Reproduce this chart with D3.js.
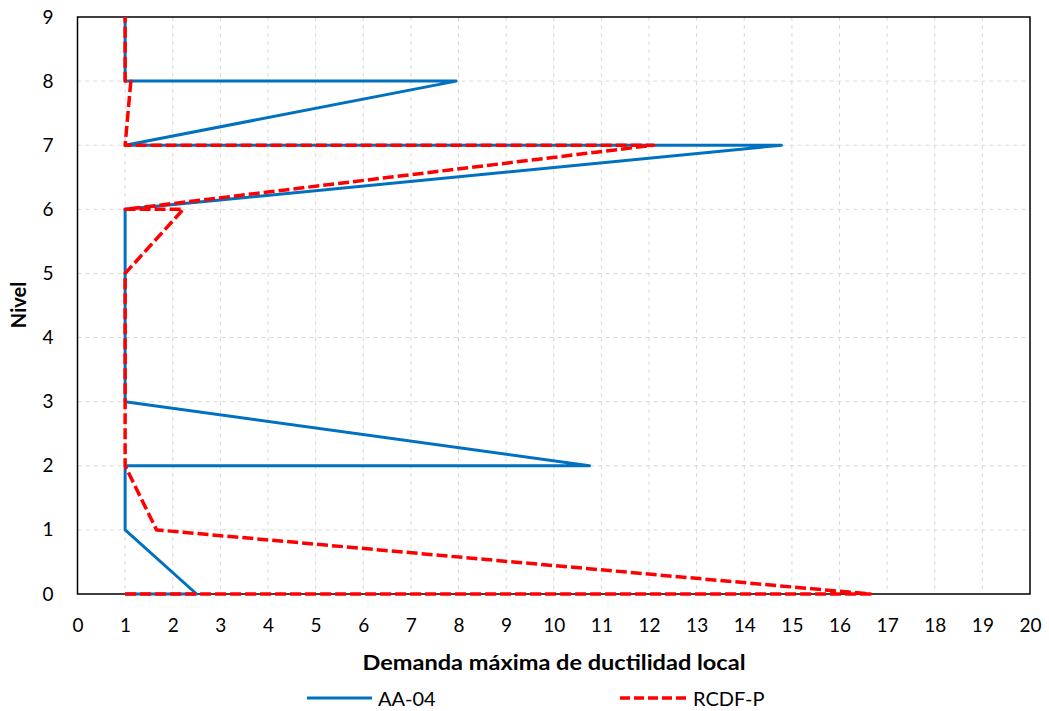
<!DOCTYPE html>
<html>
<head>
<meta charset="utf-8">
<script src="https://cdn.jsdelivr.net/npm/d3@7"></script>
<style>
  body { margin: 0; background: #fff; }
  svg { display: block; font-family: Lato, "Open Sans", sans-serif; }
</style>
</head>
<body>
<svg id="chart" width="1049" height="711"></svg>
<script>
// Data (vertex sequences as drawn)
const xTicks = d3.range(0, 21);
const yTicks = d3.range(0, 10);
const aa04X = [1, 2.5, 1, 1, 10.75, 1, 1, 14.78, 1, 7.95, 1, 1];
const aa04Y = [0, 0, 1, 2, 2, 3, 6, 7, 7, 8, 8, 9];
const rcdfX = [1, 16.65, 1.66, 1, 1, 2.22, 1, 12.1, 1, 1.12, 1, 1];
const rcdfY = [0, 0, 1, 2, 5, 6, 6, 7, 7, 8, 8, 9];
const seriesNames = ["AA-04", "RCDF-P"];

const svg = d3.select("#chart");
const pLeft = 77.5, pRight = 1030, pTop = 17, pBottom = 594;
const x = d3.scaleLinear().domain([0, 20]).range([pLeft, pRight]);
const y = d3.scaleLinear().domain([0, 9]).range([pBottom, pTop]);

// grid
const grid = svg.append("g");
grid.selectAll("line.v").data(xTicks.slice(1, -1)).enter().append("line")
  .attr("x1", d => x(d)).attr("x2", d => x(d)).attr("y1", pTop).attr("y2", pBottom)
  .attr("stroke", "#d9d9d9").attr("stroke-width", 1).attr("stroke-dasharray", "4,4");
grid.selectAll("line.h").data(yTicks.slice(1, -1)).enter().append("line")
  .attr("y1", d => y(d)).attr("y2", d => y(d)).attr("x1", pLeft).attr("x2", pRight)
  .attr("stroke", "#d9d9d9").attr("stroke-width", 1).attr("stroke-dasharray", "4,4");

// axes (labels only)
const xAxis = svg.append("g").attr("transform", `translate(0,${pBottom})`)
  .call(d3.axisBottom(x).tickValues(xTicks).tickSize(0).tickPadding(25).tickFormat(d3.format("d")));
xAxis.select(".domain").remove();
xAxis.selectAll("text").attr("font-size", 19).attr("fill", "#000").attr("font-family", "Lato, sans-serif");

const yAxis = svg.append("g").attr("transform", `translate(${pLeft},0)`)
  .call(d3.axisLeft(y).tickValues(yTicks).tickSize(0).tickPadding(24).tickFormat(d3.format("d")));
yAxis.select(".domain").remove();
yAxis.selectAll("text").attr("font-size", 19).attr("fill", "#000").attr("font-family", "Lato, sans-serif");

// border
svg.append("rect").attr("x", pLeft).attr("y", pTop).attr("width", pRight - pLeft).attr("height", pBottom - pTop)
  .attr("fill", "none").attr("stroke", "#000").attr("stroke-width", 1.5);

const line = d3.line().x(d => x(d[0])).y(d => y(d[1]));
const aa = aa04X.map((v, i) => [v, aa04Y[i]]);
const rc = rcdfX.map((v, i) => [v, rcdfY[i]]);

svg.append("path").datum(aa).attr("d", line).attr("fill", "none")
  .attr("stroke", "#0070C0").attr("stroke-width", 3).attr("stroke-linejoin", "round");
svg.append("path").datum(rc).attr("d", line).attr("fill", "none")
  .attr("stroke", "#FF0000").attr("stroke-width", 3.5).attr("stroke-dasharray", "11,4")
  .attr("stroke-linejoin", "round");

// axis titles
svg.append("text").attr("x", 554).attr("y", 670).attr("text-anchor", "middle")
  .attr("font-size", 21).attr("font-weight", "bold")
  .attr("textLength", 383).attr("lengthAdjust", "spacingAndGlyphs")
  .text("Demanda máxima de ductilidad local");
svg.append("text").attr("transform", "translate(26,305) rotate(-90)").attr("text-anchor", "middle")
  .attr("font-size", 20).attr("font-weight", "bold").text("Nivel");

// legend
const lg = svg.append("g");
lg.append("line").attr("x1", 307).attr("x2", 372).attr("y1", 698).attr("y2", 698)
  .attr("stroke", "#0070C0").attr("stroke-width", 3);
lg.append("text").attr("x", 378).attr("y", 706).attr("font-size", 20).text(seriesNames[0]);
lg.append("line").attr("x1", 620).attr("x2", 687).attr("y1", 698).attr("y2", 698)
  .attr("stroke", "#FF0000").attr("stroke-width", 3.5).attr("stroke-dasharray", "10,4");
lg.append("text").attr("x", 693).attr("y", 706).attr("font-size", 20).text(seriesNames[1]);
</script>
</body>
</html>
